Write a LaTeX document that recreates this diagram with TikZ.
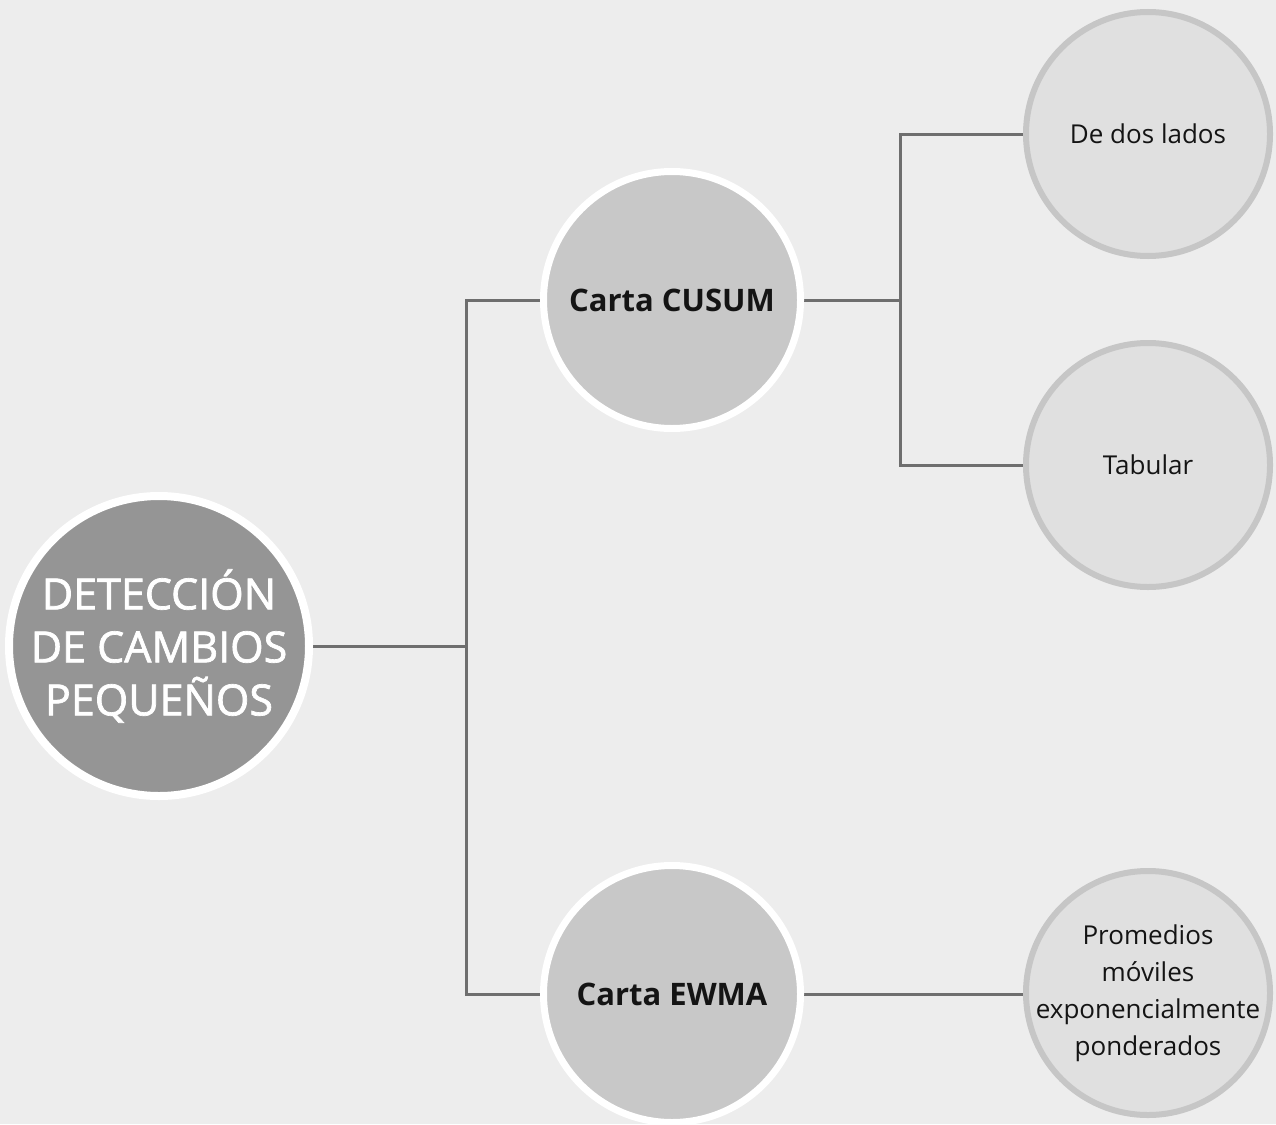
\documentclass[tikz,border=0pt]{standalone}
\usepackage{fontspec}
\setmainfont{Open Sans}
\newfontfamily\rootfont[FakeBold=1.6]{Open Sans}
\definecolor{bg}{HTML}{EDEDED}
\definecolor{rootfill}{HTML}{959595}
\definecolor{midfill}{HTML}{C8C8C8}
\definecolor{leaffill}{HTML}{E0E0E0}
\definecolor{leafring}{HTML}{C6C6C6}
\definecolor{conn}{HTML}{6E6E6E}
\definecolor{txt}{HTML}{141414}
\begin{document}
\begin{tikzpicture}[x=1pt,y=-1pt,
  rootnode/.style={circle,fill=rootfill,draw=white,line width=8pt,minimum size=300pt,inner sep=-40pt,align=center,text=white,font=\rootfont\fontsize{43}{53}\selectfont},
  midnode/.style={circle,fill=midfill,draw=white,line width=7pt,minimum size=257pt,inner sep=-20pt,align=center,text=txt,font=\fontsize{31}{36}\selectfont\bfseries},
  leafnode/.style={circle,fill=leaffill,draw=leafring,line width=6pt,minimum size=244pt,inner sep=-40pt,align=center,text=txt,font=\fontsize{26}{37}\selectfont},
  connector/.style={draw=conn,line width=3pt}]
\fill[bg] (0,0) rectangle (1276,1124);
\useasboundingbox (0,0) rectangle (1276,1124);
\coordinate (j1) at (466,646);
\coordinate (j2) at (900,300);
\draw[connector] (159,646) -- (j1);
\draw[connector] (672,300) -| (j1) |- (672,994);
\draw[connector] (672,300) -- (j2);
\draw[connector] (1148,134) -| (j2) |- (1148,465);
\draw[connector] (672,994) -- (1148,994);
\node[rootnode] (root) at (159,646) {DETECCIÓN\\DE CAMBIOS\\PEQUEÑOS};
\node[midnode] (cusum) at (672,300) {Carta CUSUM};
\node[midnode] (ewma) at (672,994) {Carta EWMA};
\node[leafnode] (dos) at (1148,134) {De dos lados};
\node[leafnode] (tab) at (1148,465) {Tabular};
\node[leafnode] (prom) at (1148,993) {Promedios\\móviles\\exponencialmente\\ponderados};
\end{tikzpicture}
\end{document}
